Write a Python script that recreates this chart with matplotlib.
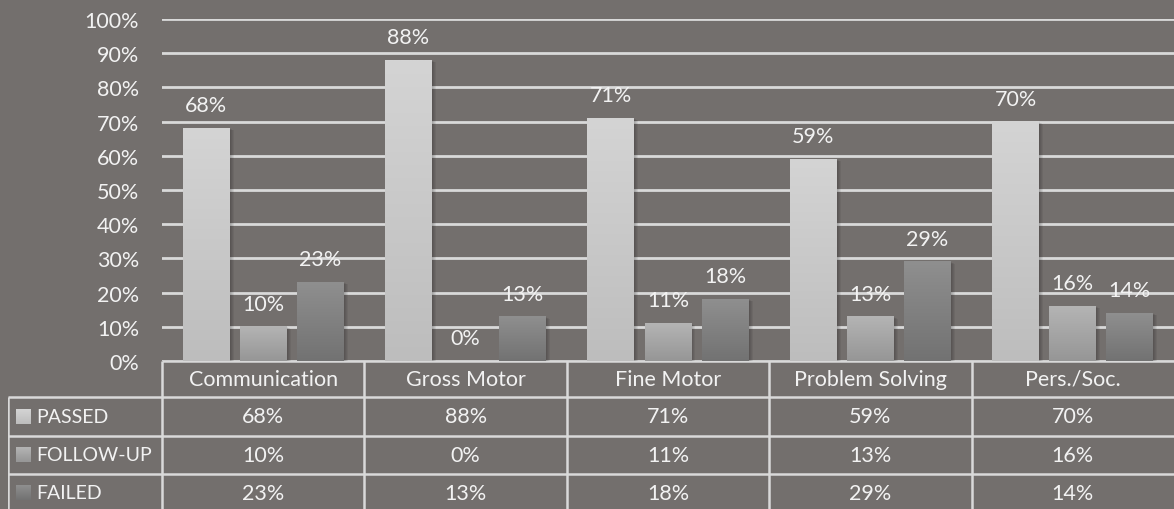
import numpy as np
import matplotlib.pyplot as plt
from matplotlib.colors import LinearSegmentedColormap
from matplotlib.patches import Rectangle

categories = ["Communication", "Gross Motor", "Fine Motor", "Problem Solving", "Pers./Soc."]
series = ["PASSED", "FOLLOW-UP", "FAILED"]
passed = [68, 88, 71, 59, 70]
follow_up = [10, 0, 11, 13, 16]
failed = [23, 13, 18, 29, 14]
yticks = [0, 10, 20, 30, 40, 50, 60, 70, 80, 90, 100]

bg = "#736f6d"
line_c = "#d9d9d9"
txt_c = "#f2f2f2"
# top / bottom colours of each series gradient
fills = [("#d4d4d4", "#bdbdbd"), ("#b4b4b4", "#969696"), ("#8f8f8f", "#727272")]
cmaps = [LinearSegmentedColormap.from_list(s, f) for s, f in zip(series, fills)]

plt.rcParams["font.family"] = ["Lato", "DejaVu Sans"]
FS = 15.5

W, H = 1174, 510
fig = plt.figure(figsize=(W / 100, H / 100), dpi=100, facecolor=bg)

# chart area
ax = fig.add_axes([162 / W, (H - 362) / H, 1 - 162 / W, (362 - 20) / H])
ax.set_facecolor(bg)
for s in ax.spines.values():
    s.set_visible(False)

px_x = 5 / (W - 162)   # data units per pixel
px_y = 100 / 342

x = np.arange(len(categories))
width = 0.232
offsets = [-0.282, 0, 0.282]
grad = np.linspace(0, 1, 256).reshape(-1, 1)

for vals, off, cm in zip([passed, follow_up, failed], offsets, cmaps):
    for xi, v in zip(x, vals):
        x0 = xi + off - width / 2
        if v > 0:
            # soft drop shadow
            for k in range(1, 5):
                ax.add_patch(Rectangle((x0 + k * px_x, 0), width, v - k * px_y * 0.5,
                                       color="black", alpha=0.06, lw=0, zorder=2))
            ax.imshow(grad, extent=[x0, x0 + width, 0, v], aspect="auto", cmap=cm,
                      zorder=3, interpolation="bilinear")
        ax.annotate(f"{v}%", (xi + off, v), xytext=(0, 12.2), textcoords="offset points",
                    ha="center", va="baseline", color=txt_c, fontsize=FS, zorder=4)

ax.set_xlim(-0.5, 4.5)
ax.set_ylim(0, 100)
ax.set_xticks([])
ax.set_yticks(yticks)
ax.set_yticklabels([f"{t}%" for t in yticks])
ax.tick_params(axis="y", length=0, pad=16.5, labelsize=FS, labelcolor=txt_c)
ax.grid(axis="y", color=line_c, lw=2)
ax.set_axisbelow(True)

# data table below the chart (y in pixels from the chart baseline)
tab = fig.add_axes([8 / W, 0, 1 - 8 / W, 148 / H])
tab.set_facecolor(bg)
tab.axis("off")
left = -0.5 - 154 * px_x

row_edges = [0, 36, 75, 113, 151]
lk = dict(color=line_c, lw=1.8, solid_capstyle="butt")
tab.plot([-0.5, 4.5], [0, 0], **lk)
for r in row_edges[1:4]:
    tab.plot([left, 4.5], [r, r], **lk)
for xi in np.arange(-0.5, 4.0, 1.0):
    tab.plot([xi, xi], [0, 148], **lk)
tab.plot([left, left], [36, 148], **lk)

for xi, c in zip(x, categories):
    tab.text(xi, 18, c, ha="center", va="center", color=txt_c, fontsize=FS)

for i, (name, vals, cm) in enumerate(zip(series, [passed, follow_up, failed], cmaps)):
    yc = (row_edges[i + 1] + row_edges[i + 2]) / 2
    k0 = left + 8 * px_x
    tab.imshow(grad, extent=[k0, k0 + 15 * px_x, yc + 7.5, yc - 7.5], aspect="auto",
               cmap=cm, interpolation="bilinear")
    tab.text(left + 28 * px_x, yc, name, ha="left", va="center", color=txt_c, fontsize=14)
    for xi, v in zip(x, vals):
        tab.text(xi, yc, f"{v}%", ha="center", va="center", color=txt_c, fontsize=FS)

tab.set_xlim(left, 4.5)
tab.set_ylim(148, 0)

fig.savefig("out.png", dpi=100, facecolor=bg)
